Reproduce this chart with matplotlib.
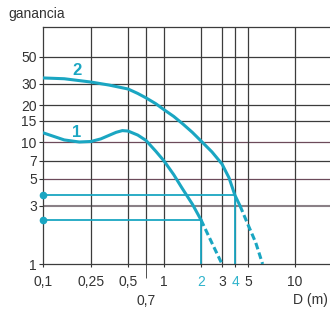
import numpy as np
import matplotlib
matplotlib.use("Agg")
from matplotlib import pyplot as plt

plt.rcParams['font.family'] = ['Liberation Sans', 'DejaVu Sans']

# curve 1: solid part, then dashed tail down to gain 1
c1_x = [0.1, 0.15, 0.2, 0.25, 0.3, 0.4, 0.45, 0.5, 0.6, 0.7, 0.85, 1.0, 1.2, 1.4, 1.7, 2.0]
c1_y = [11.9, 10.4, 10.0, 10.1, 10.6, 12.0, 12.4, 12.3, 11.4, 10.3, 8.4, 7.0, 5.4, 4.2, 3.1, 2.3]
c1_tail_x = [2.0, 2.5, 3.0]
c1_tail_y = [2.3, 1.45, 1.0]

# curve 2
c2_x = [0.1, 0.15, 0.25, 0.35, 0.5, 0.6, 0.7, 0.85, 1.0, 1.2, 1.43, 1.7, 2.0, 2.47, 3.0, 3.5, 4.0, 4.36]
c2_y = [33.5, 33.0, 31.0, 29.3, 27.2, 25.0, 23.0, 20.6, 18.4, 16.2, 14.0, 12.0, 10.2, 8.3, 6.6, 5.1, 3.65, 3.0]
c2_tail_x = [4.36, 5.0, 5.6, 6.2]
c2_tail_y = [3.0, 2.1, 1.5, 1.0]

# read-off lines: gain -> distance
read_gain = [2.3, 3.65]
read_dist = [2.0, 4.0]

x_ticks = [0.1, 0.25, 0.5, 1, 2, 3, 4, 5, 10]
x_labels = ['0,1', '0,25', '0,5', '1', '2', '3', '4', '5', '10']
y_ticks = [1, 3, 5, 7, 10, 15, 20, 30, 50]
y_labels = ['1', '3', '5', '7', '10', '15', '20', '30', '50']

CYAN = '#1aa6c2'
GRID = '#3c3c3c'
TXT = '#333333'

# the distance axis of this chart is not a clean log scale:
# piecewise mapping of log10(D) to screen pixels
k_log = np.log10([0.01, 0.1, 0.25, 0.5, 0.7, 1, 2, 3, 4, 5, 10, 100])
k_px = np.array([43 - 121, 43, 91, 128, 146, 164, 201, 222, 235, 248, 295, 416], float)


def fwd(x):
    x = np.asarray(x, float)
    with np.errstate(divide='ignore', invalid='ignore'):
        lx = np.log10(np.clip(x, 1e-9, None))
    return np.interp(lx, k_log, k_px)


def inv(p):
    return 10 ** np.interp(np.asarray(p, float), k_px, k_log)


W, H = 330, 327
fig = plt.figure(figsize=(W / 100, H / 100), dpi=100)
x0, x1, y_bot, y_top = 43, 330, 264, 26.7
ax = fig.add_axes([x0 / W, (H - y_bot) / H, (x1 - x0) / W, (y_bot - y_top) / H])
ax.set_xscale('function', functions=(fwd, inv))
ax.set_yscale('log')
ax.set_xlim(0.1, float(inv(x1)))
ax.set_ylim(1, 10 ** ((y_bot - y_top) / 122))

# grid
for g in [7, 15, 20, 30, 50]:
    ax.axhline(g, color=GRID, lw=0.9, zorder=1)
for g in [5, 10]:
    ax.axhline(g, color='#6c4a5a', lw=0.9, zorder=1)
ax.axhline(3, color='#8a8086', lw=1.5, zorder=1)
for g in [0.25, 0.5, 0.7, 1, 2, 3, 4, 5, 10]:
    ax.axvline(g, color=GRID, lw=0.9, zorder=1)

# read-off lines
for g, d in zip(read_gain, read_dist):
    ax.plot([0.1, d], [g, g], color=CYAN, lw=1.3, zorder=2)
    ax.plot([d, d], [1, g], color=CYAN, lw=1.3, zorder=2)
    ax.plot([0.1], [g], 'o', color=CYAN, ms=4.5, zorder=4, clip_on=False)

# curves
ax.plot(c1_x, c1_y, color=CYAN, lw=2.2, zorder=3, solid_capstyle='round', solid_joinstyle='round')
ax.plot(c1_tail_x, c1_tail_y, color=CYAN, lw=2.2, zorder=3, dashes=(2.2, 1.1))
ax.plot(c2_x, c2_y, color=CYAN, lw=2.2, zorder=3, solid_capstyle='round', solid_joinstyle='round')
ax.plot(c2_tail_x, c2_tail_y, color=CYAN, lw=2.2, zorder=3, dashes=(2.2, 1.1))

ax.text(0.19, 12.0, '1', color=CYAN, fontsize=12, fontweight='bold', ha='center', va='center')
ax.text(0.19, 38.5, '2', color=CYAN, fontsize=12, fontweight='bold', ha='center', va='center')

# ticks
ax.set_xticks(x_ticks)
ax.set_xticklabels(x_labels)
ax.set_xticks([0.7], minor=True)
ax.set_xticklabels(['0,7'], minor=True)
ax.set_yticks(y_ticks)
ax.set_yticklabels(y_labels)
ax.yaxis.set_minor_locator(matplotlib.ticker.NullLocator())
ax.tick_params(axis='x', which='major', length=2, pad=6, labelsize=10, colors=TXT)
ax.tick_params(axis='x', which='minor', length=10, pad=11.5, labelsize=10, colors=TXT)
ax.tick_params(axis='y', length=3, pad=1.5, labelsize=10, colors=TXT)
for lab, t in zip(ax.get_xticklabels(), x_ticks):
    if t in read_dist:
        lab.set_color('#2fb3cb')

for side in ['left', 'bottom', 'top']:
    ax.spines[side].set_color(GRID)
    ax.spines[side].set_linewidth(0.9)
ax.spines['right'].set_visible(False)

fig.text(8 / W, 1 - 14 / H, 'ganancia', fontsize=10, color=TXT, ha='left', va='center')
fig.text(293 / W, 1 - 300 / H, 'D (m)', fontsize=10, color=TXT, ha='left', va='center')

fig.savefig('out.png', dpi=100)
